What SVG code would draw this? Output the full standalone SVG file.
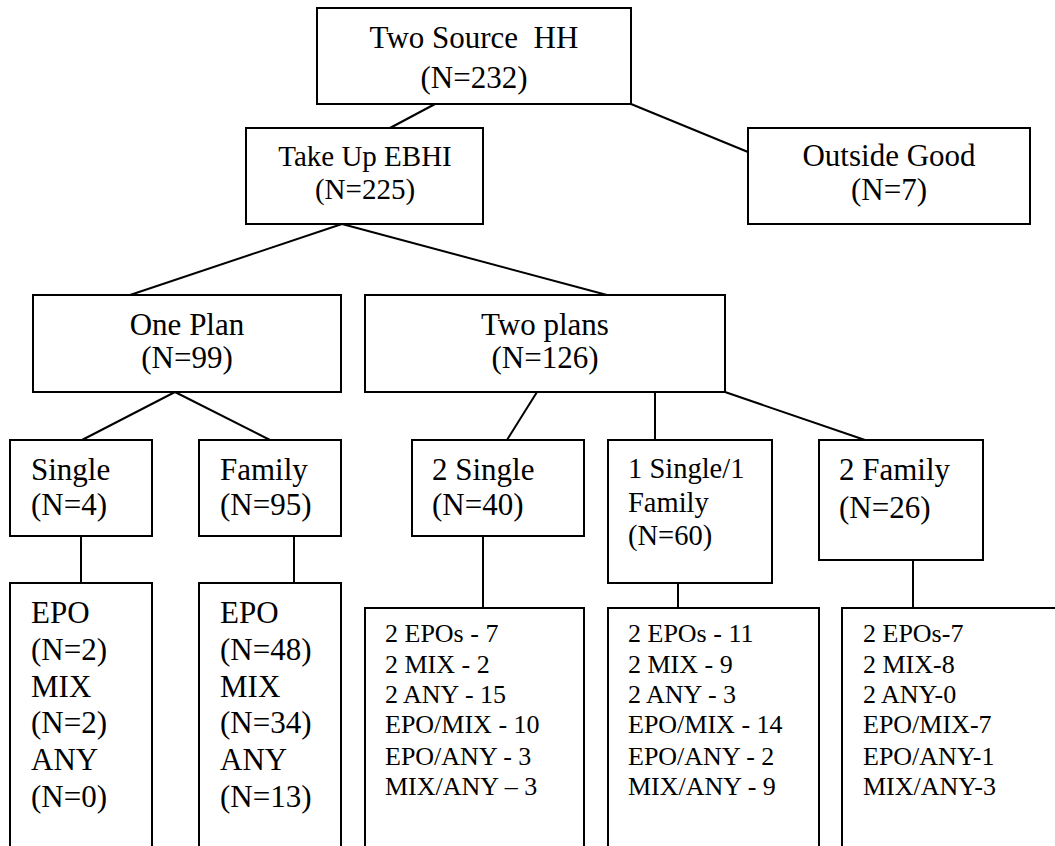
<svg xmlns="http://www.w3.org/2000/svg" width="1055" height="846" viewBox="0 0 1055 846">
<style>
.bg{fill:#fff;stroke:none}
.box{fill:#fff;stroke:#000;stroke-width:2}
.edge{stroke:#000;stroke-width:2}
text{font-family:'Liberation Serif','Times New Roman',serif;fill:#000}
.c{text-anchor:middle}
.b{font-size:31px}
.m{font-size:29px}
.t{font-size:28.5px}
.s{font-size:26px}
</style>
<rect class="bg" x="0" y="0" width="1055" height="846"/>
<g id="connectors">
<line class="edge" x1="435" y1="104" x2="390" y2="128"/>
<line class="edge" x1="631" y1="104" x2="748" y2="152"/>
<line class="edge" x1="342" y1="224" x2="130" y2="295"/>
<line class="edge" x1="342" y1="224" x2="607" y2="295"/>
<line class="edge" x1="175" y1="392" x2="82" y2="440"/>
<line class="edge" x1="175" y1="392" x2="270" y2="440"/>
<line class="edge" x1="537" y1="392" x2="507" y2="440"/>
<line class="edge" x1="655" y1="392" x2="655" y2="440"/>
<line class="edge" x1="725" y1="392" x2="865" y2="440"/>
<line class="edge" x1="81" y1="536" x2="81" y2="583"/>
<line class="edge" x1="294" y1="536" x2="294" y2="583"/>
<line class="edge" x1="483" y1="536" x2="483" y2="608"/>
<line class="edge" x1="678" y1="583" x2="678" y2="608"/>
<line class="edge" x1="913" y1="560" x2="913" y2="608"/>
</g>
<g id="n-top">
<rect class="box" x="317" y="8" width="314" height="96"/>
<text class="b c" x="474" y="48" xml:space="preserve">Two Source  HH</text>
<text class="b c" x="474" y="88">(N=232)</text>
</g>
<g id="n-takeup">
<rect class="box" x="246" y="128" width="237" height="96"/>
<text class="m c" x="365" y="166">Take Up EBHI</text>
<text class="m c" x="365" y="199">(N=225)</text>
</g>
<g id="n-outside">
<rect class="box" x="748" y="128" width="282" height="96"/>
<text class="b c" x="889" y="166">Outside Good</text>
<text class="b c" x="889" y="200">(N=7)</text>
</g>
<g id="n-oneplan">
<rect class="box" x="33" y="295" width="308" height="97"/>
<text class="b c" x="187" y="335">One Plan</text>
<text class="b c" x="187" y="368">(N=99)</text>
</g>
<g id="n-twoplans">
<rect class="box" x="365" y="295" width="360" height="97"/>
<text class="b c" x="545" y="335">Two plans</text>
<text class="b c" x="545" y="368">(N=126)</text>
</g>
<g id="n-single">
<rect class="box" x="10" y="440" width="142" height="96"/>
<text class="b" x="31" y="480">Single</text>
<text class="b" x="31" y="515">(N=4)</text>
</g>
<g id="n-family">
<rect class="box" x="199" y="440" width="142" height="96"/>
<text class="b" x="220" y="480">Family</text>
<text class="b" x="220" y="515">(N=95)</text>
</g>
<g id="n-2single">
<rect class="box" x="412" y="440" width="172" height="96"/>
<text class="b" x="432" y="480">2 Single</text>
<text class="b" x="432" y="515">(N=40)</text>
</g>
<g id="n-1s1f">
<rect class="box" x="608" y="440" width="164" height="143"/>
<text class="t" x="628" y="478">1 Single/1</text>
<text class="t" x="628" y="512">Family</text>
<text class="t" x="628" y="545">(N=60)</text>
</g>
<g id="n-2family">
<rect class="box" x="819" y="440" width="164" height="120"/>
<text class="b" x="839" y="480">2 Family</text>
<text class="b" x="839" y="518">(N=26)</text>
</g>
<g id="n-single-list">
<rect class="box" x="10" y="583" width="142" height="280"/>
<text class="b" x="31" y="623">EPO</text>
<text class="b" x="31" y="660">(N=2)</text>
<text class="b" x="31" y="697">MIX</text>
<text class="b" x="31" y="733">(N=2)</text>
<text class="b" x="31" y="770">ANY</text>
<text class="b" x="31" y="807">(N=0)</text>
</g>
<g id="n-family-list">
<rect class="box" x="199" y="583" width="142" height="280"/>
<text class="b" x="220" y="623">EPO</text>
<text class="b" x="220" y="660">(N=48)</text>
<text class="b" x="220" y="697">MIX</text>
<text class="b" x="220" y="733">(N=34)</text>
<text class="b" x="220" y="770">ANY</text>
<text class="b" x="220" y="807">(N=13)</text>
</g>
<g id="n-2single-list">
<rect class="box" x="365" y="608" width="219" height="260"/>
<text class="s" x="385" y="642">2 EPOs - 7</text>
<text class="s" x="385" y="673">2 MIX - 2</text>
<text class="s" x="385" y="703">2 ANY - 15</text>
<text class="s" x="385" y="733">EPO/MIX - 10</text>
<text class="s" x="385" y="765">EPO/ANY - 3</text>
<text class="s" x="385" y="795">MIX/ANY – 3</text>
</g>
<g id="n-1s1f-list">
<rect class="box" x="608" y="608" width="211" height="260"/>
<text class="s" x="628" y="642">2 EPOs - 11</text>
<text class="s" x="628" y="673">2 MIX - 9</text>
<text class="s" x="628" y="703">2 ANY - 3</text>
<text class="s" x="628" y="733">EPO/MIX - 14</text>
<text class="s" x="628" y="765">EPO/ANY - 2</text>
<text class="s" x="628" y="795">MIX/ANY - 9</text>
</g>
<g id="n-2family-list">
<rect class="box" x="842" y="608" width="240" height="260"/>
<text class="s" x="863" y="642">2 EPOs-7</text>
<text class="s" x="863" y="673">2 MIX-8</text>
<text class="s" x="863" y="703">2 ANY-0</text>
<text class="s" x="863" y="733">EPO/MIX-7</text>
<text class="s" x="863" y="765">EPO/ANY-1</text>
<text class="s" x="863" y="795">MIX/ANY-3</text>
</g>
</svg>
